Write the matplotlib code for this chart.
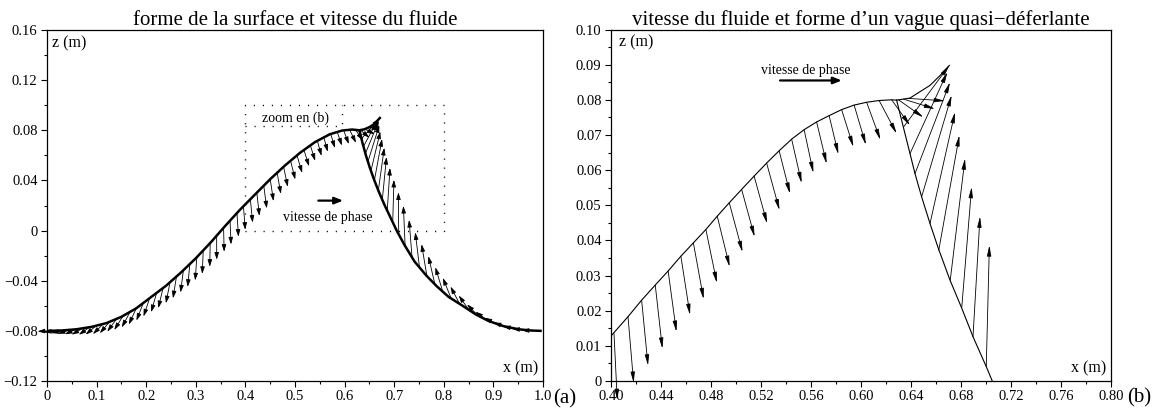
import matplotlib
matplotlib.use('Agg')
import matplotlib.pyplot as plt
from matplotlib.ticker import MultipleLocator

plt.rcParams['font.family'] = ['Liberation Serif', 'DejaVu Serif']

# ---- panel (a): surface shape (thick line) ----
back_x_a = [0.000, 0.030, 0.060, 0.090, 0.120, 0.150, 0.180, 0.210, 0.240, 0.270,
            0.300, 0.330, 0.360, 0.390, 0.420, 0.450, 0.480, 0.510, 0.540, 0.570,
            0.595, 0.615, 0.630]
back_z_a = [-0.0800, -0.0797, -0.0787, -0.0768, -0.0738, -0.0688, -0.0620, -0.0530, -0.0440, -0.0335,
            -0.0221, -0.0095, 0.0040, 0.0170, 0.0290, 0.0410, 0.0520, 0.0620, 0.0705, 0.0768,
            0.0798, 0.0806, 0.0800]
tip_x_a = [0.630, 0.640, 0.650, 0.660, 0.671]
tip_z_a = [0.0800, 0.0808, 0.0825, 0.0850, 0.0898]
front_x_a = [0.630, 0.636, 0.643, 0.651, 0.660, 0.670, 0.681, 0.693, 0.705, 0.720,
             0.741, 0.765, 0.786, 0.810, 0.838, 0.865, 0.890, 0.920, 0.950, 0.975, 0.995]
front_z_a = [0.0800, 0.0700, 0.0600, 0.0500, 0.0400, 0.0300, 0.0200, 0.0100, 0.0000, -0.0110,
             -0.0247, -0.0360, -0.0445, -0.0530, -0.0600, -0.0670, -0.0721, -0.0762, -0.0787, -0.0797, -0.0800]

# ---- panel (a): fluid velocity at the surface (tail x, tail z, u, w) ----
vel_x_a = [0.005, 0.018, 0.032, 0.045, 0.059, 0.072, 0.086, 0.099, 0.113, 0.126,
           0.140, 0.153, 0.167, 0.180, 0.194, 0.207, 0.221, 0.234, 0.248, 0.261,
           0.275, 0.288, 0.302, 0.315, 0.329, 0.342, 0.356, 0.369, 0.383, 0.396,
           0.410, 0.423, 0.437, 0.450, 0.464, 0.477, 0.491, 0.504, 0.518, 0.531,
           0.545, 0.558, 0.572, 0.585, 0.598, 0.610, 0.622, 0.632, 0.641, 0.650,
           0.634, 0.638, 0.642, 0.647, 0.653, 0.660, 0.668, 0.676, 0.686, 0.697,
           0.709, 0.722, 0.736, 0.751, 0.766, 0.782, 0.798, 0.815, 0.832, 0.850,
           0.868, 0.886, 0.905, 0.924, 0.943, 0.962, 0.981]
vel_z_a = [-0.0800, -0.0799, -0.0797, -0.0793, -0.0787, -0.0780, -0.0771, -0.0760, -0.0746, -0.0729,
           -0.0706, -0.0683, -0.0652, -0.0620, -0.0580, -0.0539, -0.0497, -0.0458, -0.0413, -0.0367,
           -0.0316, -0.0267, -0.0213, -0.0158, -0.0099, -0.0041, 0.0022, 0.0079, 0.0140, 0.0194,
           0.0250, 0.0302, 0.0358, 0.0410, 0.0461, 0.0509, 0.0557, 0.0600, 0.0643, 0.0680,
           0.0716, 0.0746, 0.0771, 0.0788, 0.0800, 0.0805, 0.0804, 0.0801, 0.0809, 0.0825,
           0.0733, 0.0671, 0.0615, 0.0550, 0.0475, 0.0400, 0.0320, 0.0245, 0.0158, 0.0065,
           -0.0030, -0.0123, -0.0215, -0.0294, -0.0364, -0.0429, -0.0488, -0.0543, -0.0585, -0.0630,
           -0.0676, -0.0713, -0.0742, -0.0765, -0.0781, -0.0792, -0.0798]
vel_u_a = [-0.0240, -0.0239, -0.0237, -0.0234, -0.0230, -0.0225, -0.0219, -0.0212, -0.0204, -0.0195,
           -0.0185, -0.0174, -0.0162, -0.0150, -0.0137, -0.0124, -0.0110, -0.0097, -0.0083, -0.0070,
           -0.0057, -0.0044, -0.0032, -0.0020, -0.0009, 0.0002, 0.0012, 0.0021, 0.0030, 0.0038,
           0.0046, 0.0053, 0.0060, 0.0067, 0.0075, 0.0084, 0.0095, 0.0104, 0.0104, 0.0096,
           0.0085, 0.0080, 0.0085, 0.0095, 0.0105, 0.0130, 0.0150, 0.0180, 0.0200, 0.0200,
           0.0360, 0.0300, 0.0270, 0.0230, 0.0190, 0.0155, 0.0120, 0.0085, 0.0055, 0.0025,
           -0.0005, -0.0035, -0.0060, -0.0085, -0.0108, -0.0130, -0.0150, -0.0168, -0.0184, -0.0198,
           -0.0210, -0.0220, -0.0228, -0.0234, -0.0238, -0.0240, -0.0240]
vel_w_a = [-0.0004, -0.0012, -0.0021, -0.0030, -0.0040, -0.0050, -0.0060, -0.0070, -0.0080, -0.0090,
           -0.0100, -0.0110, -0.0120, -0.0129, -0.0138, -0.0146, -0.0154, -0.0161, -0.0167, -0.0173,
           -0.0178, -0.0182, -0.0185, -0.0188, -0.0190, -0.0191, -0.0191, -0.0190, -0.0189, -0.0188,
           -0.0187, -0.0185, -0.0181, -0.0175, -0.0168, -0.0160, -0.0149, -0.0140, -0.0130, -0.0124,
           -0.0120, -0.0117, -0.0113, -0.0110, -0.0110, -0.0105, -0.0085, -0.0060, -0.0040, -0.0020,
           0.0160, 0.0220, 0.0260, 0.0290, 0.0315, 0.0330, 0.0340, 0.0342, 0.0342, 0.0340,
           0.0335, 0.0320, 0.0300, 0.0280, 0.0255, 0.0225, 0.0195, 0.0165, 0.0138, 0.0112,
           0.0088, 0.0066, 0.0046, 0.0030, 0.0016, 0.0008, 0.0003]

# ---- panel (b): zoom on the crest ----
back_x_b = [0.400, 0.4136, 0.4245, 0.4354, 0.4457, 0.4559, 0.4659, 0.4759, 0.4850, 0.4946,
            0.5045, 0.5145, 0.5245, 0.5345, 0.5445, 0.5545, 0.5645, 0.5745, 0.5845, 0.5945,
            0.6045, 0.6145, 0.6245, 0.6285]
back_z_b = [0.0128, 0.0183, 0.0230, 0.0273, 0.0313, 0.0355, 0.0393, 0.0431, 0.0469, 0.0507,
            0.0545, 0.0583, 0.0620, 0.0655, 0.0688, 0.0715, 0.0737, 0.0755, 0.0772, 0.0785,
            0.0793, 0.0798, 0.0800, 0.0799]
tip_x_b = [0.6285, 0.6392, 0.6445, 0.6552, 0.6632, 0.6707]
tip_z_b = [0.0799, 0.0805, 0.0817, 0.0841, 0.0869, 0.0898]
front_x_b = [0.6285, 0.6339, 0.6392, 0.6432, 0.6485, 0.6552, 0.6619, 0.6712, 0.6805, 0.6896,
             0.7002, 0.7050]
front_z_b = [0.0799, 0.0722, 0.0647, 0.0590, 0.0524, 0.0448, 0.0377, 0.0287, 0.0208, 0.0126,
             0.0041, 0.0000]

vel_x_b = [0.4024, 0.4136, 0.4245, 0.4354, 0.4457, 0.4559, 0.4659, 0.4759, 0.4850, 0.4946,
           0.5045, 0.5145, 0.5245, 0.5345, 0.5445, 0.5545, 0.5645, 0.5745, 0.5845, 0.5945,
           0.6045, 0.6145, 0.6245, 0.6300, 0.6340, 0.6380,
           0.7002, 0.6896, 0.6806, 0.6714, 0.6622, 0.6552, 0.6485, 0.6432, 0.6392, 0.6339]
vel_z_b = [0.0135, 0.0183, 0.0230, 0.0273, 0.0313, 0.0355, 0.0393, 0.0431, 0.0469, 0.0507,
           0.0545, 0.0583, 0.0620, 0.0655, 0.0688, 0.0715, 0.0737, 0.0755, 0.0772, 0.0785,
           0.0793, 0.0798, 0.0800, 0.0800, 0.0802, 0.0804,
           0.0041, 0.0126, 0.0209, 0.0287, 0.0372, 0.0448, 0.0524, 0.0590, 0.0647, 0.0722]
vel_u_b = [0.0026, 0.0045, 0.0051, 0.0057, 0.0066, 0.0073, 0.0082, 0.0088, 0.0099, 0.0106,
           0.0104, 0.0104, 0.0103, 0.0087, 0.0080, 0.0074, 0.0080, 0.0074, 0.0094, 0.0094,
           0.0110, 0.0140, 0.0147, 0.0199, 0.0252, 0.0292,
           0.0025, 0.0056, 0.0079, 0.0118, 0.0165, 0.0200, 0.0240, 0.0280, 0.0299, 0.0368]
vel_w_b = [-0.0189, -0.0188, -0.0186, -0.0181, -0.0173, -0.0167, -0.0160, -0.0152, -0.0144, -0.0140,
           -0.0135, -0.0135, -0.0134, -0.0122, -0.0125, -0.0123, -0.0119, -0.0110, -0.0106, -0.0113,
           -0.0107, -0.0094, -0.0073, -0.0050, -0.0028, -0.0007,
           0.0345, 0.0342, 0.0343, 0.0346, 0.0327, 0.0317, 0.0289, 0.0260, 0.0232, 0.0176]

# zoom window shown in (a) and phase speed arrows
zoom_box_x = [0.4, 0.8, 0.8, 0.4, 0.4]
zoom_box_z = [0.0, 0.0, 0.1, 0.1, 0.0]
label_box_x = [0.4, 0.594, 0.594]
label_box_z = [0.0837, 0.0837, 0.1]
phase_a = [(0.547, 0.0239), (0.597, 0.0239)]
phase_b = [(0.5352, 0.0855), (0.5846, 0.0855)]

xt_a = [0, 0.1, 0.2, 0.3, 0.4, 0.5, 0.6, 0.7, 0.8, 0.9, 1.0]
xl_a = ['0', '0.1', '0.2', '0.3', '0.4', '0.5', '0.6', '0.7', '0.8', '0.9', '1.0']
yt_a = [-0.12, -0.08, -0.04, 0, 0.04, 0.08, 0.12, 0.16]
yl_a = ['\u22120.12', '\u22120.08', '\u22120.04', '0', '0.04', '0.08', '0.12', '0.16']
xt_b = [0.40, 0.44, 0.48, 0.52, 0.56, 0.60, 0.64, 0.68, 0.72, 0.76, 0.80]
xl_b = ['0.40', '0.44', '0.48', '0.52', '0.56', '0.60', '0.64', '0.68', '0.72', '0.76', '0.80']
yt_b = [0, 0.01, 0.02, 0.03, 0.04, 0.05, 0.06, 0.07, 0.08, 0.09, 0.10]
yl_b = ['0', '0.01', '0.02', '0.03', '0.04', '0.05', '0.06', '0.07', '0.08', '0.09', '0.10']


def draw_arrows(ax, xs, zs, us, ws, lw, ms, head):
    for x, z, u, w in zip(xs, zs, us, ws):
        ax.annotate('', xy=(x + u, z + w), xytext=(x, z),
                    arrowprops=dict(arrowstyle=head, lw=lw, color='black',
                                    mutation_scale=ms, shrinkA=0, shrinkB=0),
                    annotation_clip=False)


def style_axes(ax, xt, xl, yt, yl, xminor, yminor):
    ax.set_xticks(xt)
    ax.set_xticklabels(xl)
    ax.set_yticks(yt)
    ax.set_yticklabels(yl)
    ax.xaxis.set_minor_locator(MultipleLocator(xminor))
    ax.yaxis.set_minor_locator(MultipleLocator(yminor))
    ax.tick_params(which='major', direction='out', length=4.3, width=0.8, pad=2.5,
                   labelsize=10.5, colors='black')
    ax.tick_params(which='minor', direction='out', length=2.4, width=0.8)
    for s in ax.spines.values():
        s.set_linewidth(0.9)


fig = plt.figure(figsize=(11.68, 4.09), dpi=100)
ax1 = fig.add_axes([0.04024, 0.06846, 0.42466, 0.85819])
ax2 = fig.add_axes([0.52312, 0.06846, 0.42808, 0.8594])

# (a)
ax1.plot(back_x_a, back_z_a, color='black', lw=1.8)
ax1.plot(tip_x_a, tip_z_a, color='black', lw=1.8)
ax1.plot(front_x_a, front_z_a, color='black', lw=1.8)
draw_arrows(ax1, vel_x_a, vel_z_a, vel_u_a, vel_w_a, 0.6, 6,
            '-|>,head_length=0.7,head_width=0.22')
ax1.plot(zoom_box_x, zoom_box_z, color='black', lw=1.0, linestyle=(0, (0.8, 5.7)))
ax1.plot(label_box_x, label_box_z, color='black', lw=1.0, linestyle=(0, (0.8, 5.7)))
ax1.text(0.5, 0.0871, 'zoom en (b)', ha='center', va='baseline', fontsize=10)
ax1.text(0.5657, 0.0080, 'vitesse de phase', ha='center', va='baseline', fontsize=10)
ax1.annotate('', xy=phase_a[1], xytext=phase_a[0],
             arrowprops=dict(arrowstyle='-|>,head_length=0.5,head_width=0.2', lw=1.6,
                             color='black', mutation_scale=10, shrinkA=0, shrinkB=0))
ax1.set_xlim(0, 1.0)
ax1.set_ylim(-0.12, 0.16)
style_axes(ax1, xt_a, xl_a, yt_a, yl_a, 0.05, 0.02)
ax1.set_title('forme de la surface et vitesse du fluide', fontsize=15, pad=3.5)
ax1.text(0.0095, 0.985, 'z (m)', transform=ax1.transAxes, ha='left', va='top', fontsize=11.5)
ax1.text(0.99, 0.012, 'x (m)', transform=ax1.transAxes, ha='right', va='bottom', fontsize=11.5)

# (b)
ax2.plot(back_x_b, back_z_b, color='black', lw=0.8)
ax2.plot(tip_x_b, tip_z_b, color='black', lw=0.8)
ax2.plot(front_x_b, front_z_b, color='black', lw=0.8)
draw_arrows(ax2, vel_x_b, vel_z_b, vel_u_b, vel_w_b, 0.6, 9,
            '-|>,head_length=0.7,head_width=0.14')
ax2.text(0.556, 0.0872, 'vitesse de phase', ha='center', va='baseline', fontsize=10)
ax2.annotate('', xy=phase_b[1], xytext=phase_b[0],
             arrowprops=dict(arrowstyle='-|>,head_length=0.5,head_width=0.2', lw=1.6,
                             color='black', mutation_scale=10, shrinkA=0, shrinkB=0))
ax2.set_xlim(0.40, 0.80)
ax2.set_ylim(0, 0.10)
style_axes(ax2, xt_b, xl_b, yt_b, yl_b, 0.02, 0.005)
ax2.set_title('vitesse du fluide et forme d\u2019un vague quasi\u2212d\u00e9ferlante',
              fontsize=15, pad=3.5)
ax2.text(0.016, 0.985, 'z (m)', transform=ax2.transAxes, ha='left', va='top', fontsize=11.5)
ax2.text(0.99, 0.012, 'x (m)', transform=ax2.transAxes, ha='right', va='bottom', fontsize=11.5)

fig.text(553 / 1168, 6 / 409, '(a)', fontsize=15, ha='left', va='baseline')
fig.text(1127 / 1168, 7 / 409, '(b)', fontsize=15, ha='left', va='baseline')

fig.savefig('out.png', dpi=100, facecolor='white')
